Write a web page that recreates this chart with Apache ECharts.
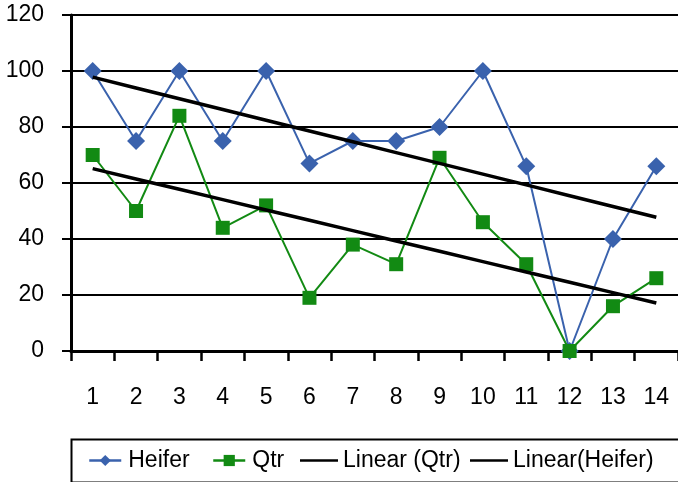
<!DOCTYPE html>
<html>
<head>
<meta charset="utf-8">
<script src="https://cdn.jsdelivr.net/npm/echarts@6/dist/echarts.min.js"></script>
<style>html,body{margin:0;padding:0;background:#fff}#c{width:678px;height:482px}</style>
</head>
<body>
<div id="c"></div>
<script>
var categories = ['1','2','3','4','5','6','7','8','9','10','11','12','13','14'];
var heifer = [100, 75, 100, 75, 100, 67, 75, 75, 80, 100, 66, 0, 40, 66];
var qtr = [70, 50, 84, 44, 52, 19, 38, 31, 69, 46, 31, 0, 16, 26];
var yTicks = [0, 20, 40, 60, 80, 100, 120];

function linearTrend(vals) {
  var n = vals.length, sx = 0, sy = 0, sxy = 0, sxx = 0;
  for (var i = 0; i < n; i++) { var x = i + 1; sx += x; sy += vals[i]; sxy += x * vals[i]; sxx += x * x; }
  var b = (n * sxy - sx * sy) / (n * sxx - sx * sx);
  var a = (sy - b * sx) / n;
  return vals.map(function (_, i) { return a + b * (i + 1); });
}
var trendQtr = linearTrend(qtr);
var trendHeifer = linearTrend(heifer);

var FONT = 'Liberation Sans';
var TXT = {fontFamily: FONT, fontSize: 23, color: '#000'};
var blue = '#3a62ad', green = '#128a13';
var chart = echarts.init(document.getElementById('c'), null, {renderer: 'canvas'});
function leg(name, left) {
  return {
    data: [name], left: left, top: 449, itemWidth: 32, itemHeight: 14, itemGap: 0,
    padding: 0, textStyle: Object.assign({padding: [0,0,0,2]}, TXT),
    lineStyle: {width: 2.5}
  };
}
function legLine(name, left) {
  return {
    data: [{name: name, icon: 'rect'}], left: left, top: 449, itemWidth: 38, itemHeight: 2.5, itemGap: 0,
    padding: 0, textStyle: Object.assign({padding: [0,0,0,0]}, TXT),
    itemStyle: {color: '#000'}
  };
}
chart.setOption({
  animation: false,
  backgroundColor: '#fff',
  grid: {left: 71, right: 0, top: 15, bottom: 131, containLabel: false},
  xAxis: {
    type: 'category', data: categories, boundaryGap: true,
    axisLine: {lineStyle: {color: '#000', width: 3}},
    axisTick: {show: true, length: 10, lineStyle: {color: '#000', width: 2.5}},
    axisLabel: Object.assign({margin: 35}, TXT),
    splitLine: {show: false}
  },
  yAxis: {
    type: 'value', min: yTicks[0], max: yTicks[yTicks.length - 1], interval: 20,
    axisLine: {show: true, lineStyle: {color: '#000', width: 3}},
    axisTick: {show: true, length: 9, lineStyle: {color: '#000', width: 2}},
    axisLabel: Object.assign({margin: 27}, TXT),
    splitLine: {show: true, lineStyle: {color: '#000', width: 2}}
  },
  legend: [leg('Heifer', 88), leg('Qtr', 212), legLine('Linear (Qtr)', 300), legLine('Linear(Heifer)', 470)],
  graphic: [{
    type: 'rect', left: 69, top: 437, z: 0,
    shape: {width: 620, height: 43},
    style: {fill: 'none', stroke: '#000', lineWidth: 2}
  }],
  series: [
    {name: 'Heifer', type: 'line', data: heifer, symbol: 'diamond', symbolSize: 18,
     itemStyle: {color: blue}, lineStyle: {color: blue, width: 2}, z: 2},
    {name: 'Qtr', type: 'line', data: qtr, symbol: 'rect', symbolSize: 14,
     itemStyle: {color: green}, lineStyle: {color: green, width: 2}, z: 3},
    {name: 'Linear (Qtr)', type: 'line', data: trendQtr, symbol: 'none', showSymbol: false,
     itemStyle: {color: '#000'}, lineStyle: {color: '#000', width: 3.5}, z: 4},
    {name: 'Linear(Heifer)', type: 'line', data: trendHeifer, symbol: 'none', showSymbol: false,
     itemStyle: {color: '#000'}, lineStyle: {color: '#000', width: 3.5}, z: 4}
  ]
});
</script>
</body>
</html>
